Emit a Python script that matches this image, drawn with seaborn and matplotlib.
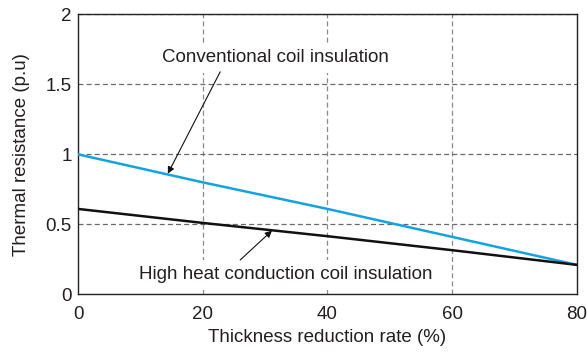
import matplotlib
matplotlib.use("Agg")
import matplotlib.pyplot as plt
import seaborn as sns
import pandas as pd

# Thermal resistance vs. thickness reduction rate
reduction_rate = [0, 20, 40, 60, 80]
conventional = [1.00, 0.80, 0.61, 0.41, 0.21]
high_conduction = [0.61, 0.51, 0.415, 0.315, 0.21]

series_names = ["Conventional coil insulation", "High heat conduction coil insulation"]
x_ticks = [0, 20, 40, 60, 80]
y_ticks = [0, 0.5, 1, 1.5, 2]
y_tick_labels = ["0", "0.5", "1", "1.5", "2"]

df = pd.DataFrame({
    "rate": reduction_rate * 2,
    "resistance": conventional + high_conduction,
    "series": [series_names[0]] * len(reduction_rate) + [series_names[1]] * len(reduction_rate),
})

sns.set_style("white")
plt.rcParams["font.family"] = ["Liberation Sans", "DejaVu Sans"]
text_color = "#231f20"
fs = 13.5

fig = plt.figure(figsize=(5.87, 3.52), dpi=100)
ax = fig.add_axes([0.1329, 0.164, 0.850, 0.795])

# grid
for x in [20, 40, 60]:
    ax.axvline(x, color="#8a8a8a", lw=0.9, ls=(0, (4, 2.5)), zorder=1)
for y in [0.5, 1, 1.5, 2]:
    ax.axhline(y, color="#6a6a6a", lw=0.9, ls=(0, (4, 2.5)), zorder=1)

sns.lineplot(data=df, x="rate", y="resistance", hue="series",
             palette={series_names[0]: "#14a3e0", series_names[1]: "#111111"},
             linewidth=1.8, legend=False, ax=ax, zorder=3)

ax.set_xlim(0, 80)
ax.set_ylim(0, 2)
ax.set_xticks(x_ticks)
ax.set_yticks(y_ticks)
ax.set_yticklabels(y_tick_labels)
ax.tick_params(length=0, labelsize=fs, colors=text_color)
ax.tick_params(axis="x", pad=8.5)
ax.tick_params(axis="y", pad=4.5)
ax.set_xlabel("Thickness reduction rate (%)", fontsize=fs, color=text_color, labelpad=4)
ax.set_ylabel("Thermal resistance (p.u)", fontsize=fs, color=text_color, labelpad=11)
for s in ax.spines.values():
    s.set_color("#222222")
    s.set_linewidth(1.0)
    s.set_visible(True)

box = dict(boxstyle="square,pad=0.35", fc="white", ec="none")
arrow = dict(arrowstyle="-|>", color="#111111", lw=0.8, mutation_scale=10,
             shrinkA=0, shrinkB=0)

ax.text(31.6, 1.69, series_names[0], ha="center", va="center", fontsize=fs,
        color=text_color, bbox=box, zorder=4)
ax.annotate("", xy=(14.4, 0.862), xytext=(22.8, 1.59), arrowprops=arrow, zorder=5)

ax.text(33.3, 0.14, series_names[1], ha="center", va="center", fontsize=fs,
        color=text_color, bbox=box, zorder=4)
ax.annotate("", xy=(31.1, 0.455), xytext=(26.0, 0.245), arrowprops=arrow, zorder=5)

fig.savefig("out.png", dpi=100)
